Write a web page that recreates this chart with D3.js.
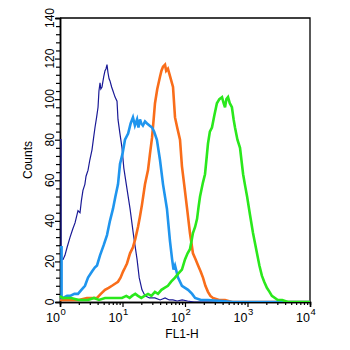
<!DOCTYPE html>
<html><head><meta charset="utf-8">
<script src="https://cdn.jsdelivr.net/npm/d3@7"></script>
<style>body{margin:0;background:#fff}svg{display:block}text{font-family:"Liberation Sans",Arial,Helvetica,sans-serif}</style>
</head><body><div id="chart"></div>
<script>
// FL1-H intensity and counts per series
const navyData = [[1,80],[1.02,80],[1.04,80],[1.04,21],[1.12,21],[1.2,23],[1.3,27],[1.45,32],[1.6,36],[1.74,39],[1.94,45],[2.09,44],[2.2,50],[2.33,55],[2.5,58],[2.61,62],[2.81,65],[3.0,70],[3.25,75],[3.45,81],[3.63,86],[3.85,91],[4.06,96],[4.2,104],[4.37,108],[4.5,105],[4.7,106],[5.0,111],[5.25,114],[5.45,115],[5.65,117],[5.86,113],[6.1,110],[6.31,109],[6.7,106],[7.05,104],[7.6,101],[8.17,99],[8.47,90],[9.1,83],[9.82,76],[10.5,66],[11.5,58],[13.2,46],[15,33],[17.1,21],[18.5,12],[20.5,6],[23,3],[27,2],[33,2],[40,1],[48,2],[56,1],[64,1],[75,0.5],[90,1],[110,0.5],[140,0],[10000,0]];
const lightBlueData = [[1,27],[1.06,27],[1.06,2],[1.12,2],[1.3,3],[1.45,3],[1.7,4],[1.94,4],[2.2,6],[2.51,8],[2.81,12],[3.25,15],[3.6,17],[3.91,18],[4.37,23],[5.0,28],[5.65,33],[6.3,40],[7.05,46],[7.7,52],[8.47,58],[9.12,68],[10.0,73],[10.96,80],[12.3,83],[13.5,88],[14.7,91],[15.8,87],[17.1,90],[18,86],[19.05,90],[20,88],[21.2,87],[22.9,89],[24.7,88],[27,87],[29.7,86],[32,84],[35.5,80],[39.8,70],[44.5,58],[51.4,46],[57.5,30],[62.2,21],[65.5,16],[69.2,18],[77.3,12],[89.3,8],[112,6],[130,4],[145,2],[180,1],[233,1],[391,0.5],[588,0],[10000,0]];
const orangeData = [[1,1],[1.5,1],[2,1],[2.7,2],[3.91,2],[4.5,4],[5.25,6],[6,7],[6.79,8],[7.6,9],[8.47,10],[9.3,12],[10.2,15],[11,17],[11.8,19],[13.2,24],[14.7,27],[16,31],[17.7,37],[19,42],[20.5,48],[22.9,58],[25.6,65],[27.5,73],[29.7,81],[31.5,90],[33.1,98],[36,105],[39.8,111],[42,114],[44.5,116],[47.9,117],[50,114],[53.3,115],[58,111],[64.3,106],[69.2,91],[75,86],[83.2,80],[89.3,67],[97,58],[108,46],[120,34],[134,24],[148,21],[162,18],[178,15],[194,12],[212,8],[233,5],[255,3],[280,2],[350,1],[437,1],[563,0],[10000,0]];
const greenData = [[1,3],[1.1,2],[1.5,2],[2,1],[2.81,1],[3.5,2],[4.2,1],[5.25,2],[6.5,2],[8,2],[9.82,2],[11.5,3],[13,2],[14.2,3],[16,4],[17.7,3],[20,2],[22.5,3],[25.6,4],[29,3],[33,5],[37,4],[42,6],[47,7],[53.3,8],[60,10],[69.2,12],[78,14],[89.3,16],[100,21],[110,24],[120,26],[127,30],[134,34],[145,37],[156,41],[165,47],[174,52],[194,59],[209,63],[220,70],[233,78],[250,84],[270,86],[295,92],[324,98],[355,100],[391,101],[415,98],[437,96],[460,100],[488,101],[520,98],[563,96],[600,90],[631,86],[690,80],[759,76],[800,70],[851,63],[920,57],[985,52],[1096,43],[1225,34],[1418,24],[1550,18],[1698,13],[1850,10],[2042,7],[2250,5],[2455,3],[3055,1],[3600,1],[4424,0],[10000,0]];
const seriesNames = ["navy","orange","lightBlue","green"];
const seriesColors = ["#1a1a96","#f96d1a","#1f95ee","#2ae81c"];
const seriesWidths = [1.2,2.6,2.6,2.6];
const seriesData = [navyData, orangeData, lightBlueData, greenData];
const xMajorTicks = [1,10,100,1000,10000];
const xExponents = ["0","1","2","3","4"];
const yLabelTicks = [0,20,40,60,80,100,120,140];
const xTitle = "FL1-H", yTitle = "Counts";

const W=350,H=350, L=60, R=310, T=18, B=302;
const svg = d3.select("#chart").append("svg").attr("width",W).attr("height",H);
const x = d3.scaleLog().domain([1,10000]).range([L,R]);
const y = d3.scaleLinear().domain([0,140]).range([B,T]);

svg.append("clipPath").attr("id","clip").append("rect").attr("x",L-1.5).attr("y",T).attr("width",R-L+1.5).attr("height",B-T);

// frame top & right
svg.append("path").attr("d",`M${L},${T}H${R}V${B}`).attr("fill","none").attr("stroke","#000").attr("stroke-width",1.3);

// x axis
const xMinor = [];
for(let d=1; d<10000; d*=10) for(let k=2;k<=9;k++) xMinor.push(d*k);
const xa1 = svg.append("g").attr("transform",`translate(0,${B})`).call(d3.axisBottom(x).tickValues(xMajorTicks).tickSize(5).tickFormat(""));
const xa2 = svg.append("g").attr("transform",`translate(0,${B})`).call(d3.axisBottom(x).tickValues(xMinor).tickSize(3).tickFormat(""));
[xa1,xa2].forEach(a=>{a.select(".domain").attr("stroke","#000").attr("stroke-width",1.5);a.selectAll(".tick line").attr("stroke","#000").attr("stroke-width",1.2);});
xMajorTicks.forEach((v,i)=>{
  svg.append("text").attr("x",x(v)).attr("y",B+20).attr("font-size",12.5).attr("text-anchor","end").attr("fill","#000").text("10");
  svg.append("text").attr("x",x(v)+0.5).attr("y",B+13).attr("font-size",9.5).attr("fill","#000").text(xExponents[i]);
});
svg.append("text").attr("x",182).attr("y",338).attr("text-anchor","middle").attr("font-size",12).text(xTitle);

// y axis
const yAll = d3.range(0,141,4);
const ya1 = svg.append("g").attr("transform",`translate(${L},0)`).call(d3.axisLeft(y).tickValues(yLabelTicks).tickSize(5).tickFormat(""));
const ya2 = svg.append("g").attr("transform",`translate(${L},0)`).call(d3.axisLeft(y).tickValues(yAll.filter(v=>v%20)).tickSize(4).tickFormat(""));
[ya1,ya2].forEach(a=>{a.select(".domain").attr("stroke","#000").attr("stroke-width",1.5);a.selectAll(".tick line").attr("stroke","#000").attr("stroke-width",1.2);});
yLabelTicks.forEach(v=>{
  svg.append("text").attr("transform",`translate(54,${y(v)}) rotate(-90)`).attr("text-anchor","middle").attr("font-size",12).text(v);
});
svg.append("text").attr("transform",`translate(32,160) rotate(-90)`).attr("text-anchor","middle").attr("font-size",12).text(yTitle);

// series drawn on top of axes
const line = d3.line().x(d=>x(d[0])).y(d=>y(d[1])).curve(d3.curveLinear);
const g = svg.append("g").attr("clip-path","url(#clip)");
seriesData.forEach((d,i)=>{
  g.append("path").datum(d).attr("d",line).attr("fill","none")
   .attr("stroke",seriesColors[i]).attr("stroke-width",seriesWidths[i]).attr("stroke-linejoin","miter");
});
</script></body></html>
